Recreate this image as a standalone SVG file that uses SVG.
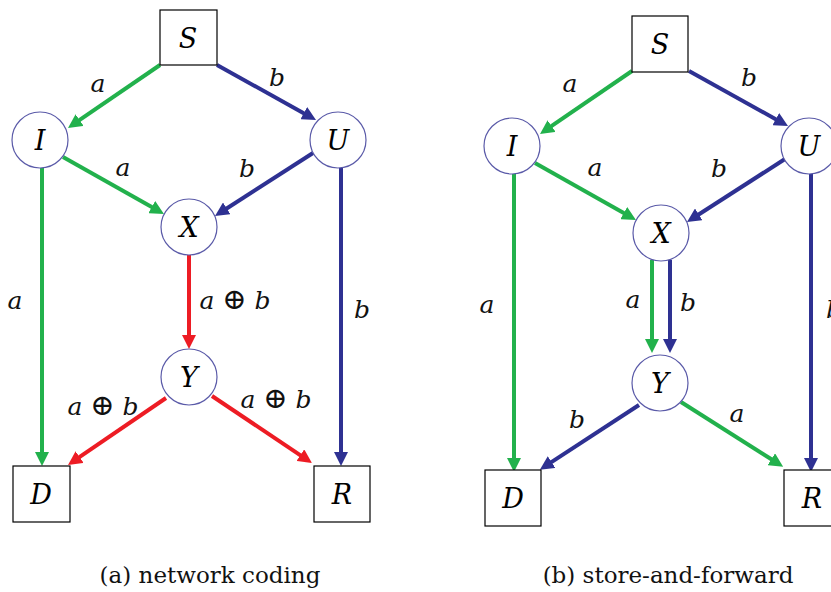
<svg xmlns="http://www.w3.org/2000/svg" width="831" height="592" viewBox="0 0 831 592">
<style>
text{font-family:'DejaVu Serif','Liberation Serif',serif}
.box{fill:#fff;stroke:#000;stroke-width:1.2}
.cir{fill:#fff;stroke:#5a5aa8;stroke-width:1.2}
.nl{font-style:italic;font-size:27px;text-anchor:middle;fill:#000}
.el{font-style:italic;font-size:25px;text-anchor:middle;fill:#111}
.op{font-style:normal;font-size:29px}
.cap{font-size:23px;text-anchor:middle;fill:#111}
.g{stroke:#22b14c;stroke-width:4;fill:none;marker-end:url(#ag)}
.b{stroke:#2e3192;stroke-width:4;fill:none;marker-end:url(#ab)}
.r{stroke:#ed1c24;stroke-width:4;fill:none;marker-end:url(#ar)}
</style>
<defs>
<marker id="ag" markerUnits="userSpaceOnUse" markerWidth="14" markerHeight="14" refX="2" refY="7" orient="auto"><path d="M0,0 L14,7 L0,14 z" fill="#22b14c"/></marker>
<marker id="ab" markerUnits="userSpaceOnUse" markerWidth="14" markerHeight="14" refX="2" refY="7" orient="auto"><path d="M0,0 L14,7 L0,14 z" fill="#2e3192"/></marker>
<marker id="ar" markerUnits="userSpaceOnUse" markerWidth="14" markerHeight="14" refX="2" refY="7" orient="auto"><path d="M0,0 L14,7 L0,14 z" fill="#ed1c24"/></marker>
</defs>

<g id="panel-a">
<g id="a-connectors">
<line class="g" x1="160" y1="65" x2="77.9" y2="121.2"/>
<line class="b" x1="217" y1="65" x2="305.5" y2="114.2"/>
<line class="g" x1="63" y1="157" x2="153.5" y2="208.1"/>
<line class="b" x1="313" y1="153" x2="225.1" y2="209.5"/>
<line class="g" x1="42" y1="168" x2="42" y2="454"/>
<line class="b" x1="341" y1="168" x2="341" y2="454"/>
<line class="r" x1="189" y1="255" x2="189" y2="337"/>
<line class="r" x1="166" y1="398" x2="77.9" y2="458.2"/>
<line class="r" x1="212" y1="396" x2="302" y2="456.3"/>
</g>
<g id="a-S"><rect class="box" x="160" y="10" width="57" height="55"/><text class="nl" x="188" y="48">S</text></g>
<g id="a-I"><circle class="cir" cx="40" cy="140" r="28"/><text class="nl" x="40" y="150">I</text></g>
<g id="a-U"><circle class="cir" cx="338" cy="140" r="28"/><text class="nl" x="338" y="150">U</text></g>
<g id="a-X"><circle class="cir" cx="189" cy="227" r="28"/><text class="nl" x="189" y="237">X</text></g>
<g id="a-Y"><circle class="cir" cx="189" cy="377" r="28"/><text class="nl" x="189" y="387">Y</text></g>
<g id="a-D"><rect class="box" x="13" y="466" width="57" height="56"/><text class="nl" x="41" y="504">D</text></g>
<g id="a-R"><rect class="box" x="314" y="466" width="56" height="56"/><text class="nl" x="342" y="504">R</text></g>
<g id="a-labels">
<text class="el" x="98" y="92">a</text>
<text class="el" x="277" y="86">b</text>
<text class="el" x="123" y="176">a</text>
<text class="el" x="247" y="177">b</text>
<text class="el" x="15" y="309">a</text>
<text class="el" x="235" y="309">a <tspan class="op">⊕</tspan> b</text>
<text class="el" x="362" y="318">b</text>
<text class="el" x="103" y="415">a <tspan class="op">⊕</tspan> b</text>
<text class="el" x="276" y="408">a <tspan class="op">⊕</tspan> b</text>
</g>
<text class="cap" x="210" y="583">(a) network coding</text>
</g>

<g id="panel-b" transform="translate(472,6)">
<g id="b-connectors">
<line class="g" x1="160" y1="65" x2="77.9" y2="121.2"/>
<line class="b" x1="217" y1="65" x2="305.5" y2="114.2"/>
<line class="g" x1="63" y1="157" x2="153.5" y2="208.1"/>
<line class="b" x1="313" y1="153" x2="225.1" y2="209.5"/>
<line class="g" x1="42" y1="168" x2="42" y2="454"/>
<line class="b" x1="339" y1="168" x2="339" y2="454"/>
<line class="g" x1="180" y1="254" x2="180" y2="335"/>
<line class="b" x1="198" y1="254" x2="198" y2="335"/>
<line class="b" x1="167" y1="399" x2="77.9" y2="457.2"/>
<line class="g" x1="209" y1="396" x2="301" y2="454.3"/>
</g>
<g id="b-S"><rect class="box" x="160" y="10" width="56" height="56"/><text class="nl" x="188" y="48">S</text></g>
<g id="b-I"><circle class="cir" cx="40" cy="140" r="28"/><text class="nl" x="40" y="150">I</text></g>
<g id="b-U"><circle class="cir" cx="337" cy="140" r="28"/><text class="nl" x="337" y="150">U</text></g>
<g id="b-X"><circle class="cir" cx="189" cy="227" r="28"/><text class="nl" x="189" y="237">X</text></g>
<g id="b-Y"><circle class="cir" cx="188" cy="377" r="28"/><text class="nl" x="188" y="387">Y</text></g>
<g id="b-D"><rect class="box" x="13" y="464" width="56" height="56"/><text class="nl" x="41" y="502">D</text></g>
<g id="b-R"><rect class="box" x="312" y="464" width="56" height="56"/><text class="nl" x="340" y="502">R</text></g>
<g id="b-labels">
<text class="el" x="98" y="86">a</text>
<text class="el" x="277" y="80">b</text>
<text class="el" x="123" y="170">a</text>
<text class="el" x="247" y="171">b</text>
<text class="el" x="15" y="307">a</text>
<text class="el" x="161" y="302">a</text>
<text class="el" x="216" y="305">b</text>
<text class="el" x="362" y="312">b</text>
<text class="el" x="105" y="422">b</text>
<text class="el" x="265" y="416">a</text>
</g>
<text class="cap" x="196" y="577">(b) store-and-forward</text>
</g>
</svg>
